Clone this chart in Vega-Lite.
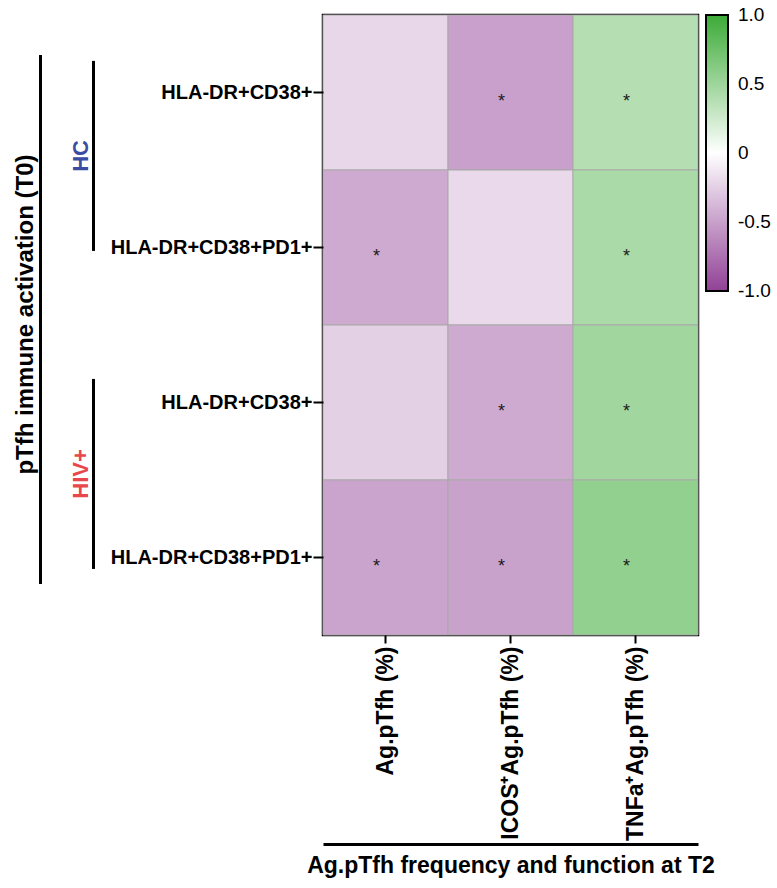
{
  "$schema": "https://vega.github.io/schema/vega-lite/v6.json",
  "padding": {"left": 12, "top": 13, "right": 0, "bottom": 0},
  "config": {"font": "Liberation Sans", "view": {"stroke": null}},
  "spacing": 14,
  "hconcat": [
    {
      "spacing": 27,
      "hconcat": [
        {
          "width": 3,
          "height": 620,
          "data": {"values": [{"span": "pTfh immune activation (T0)"}]},
          "mark": {"type": "rect", "color": "black"},
          "encoding": {
            "y": {
              "field": "span",
              "type": "nominal",
              "scale": {"paddingInner": 0, "paddingOuter": 0.086, "align": 0.44},
              "axis": {"title": null, "labelAngle": -90, "labelFontSize": 24, "labelFontWeight": "bold", "labelColor": "black", "labelPadding": 2, "labelOffset": -5, "ticks": false, "domain": false, "labelLimit": 0}
            }
          }
        },
        {
          "width": 3,
          "height": 620,
          "data": {"values": [{"group": "HC"}, {"group": "HIV+"}]},
          "mark": {"type": "rect", "color": "black"},
          "encoding": {
            "y": {
              "field": "group",
              "type": "nominal",
              "sort": ["HC", "HIV+"],
              "scale": {"paddingInner": 0.4025, "paddingOuter": 0.176, "align": 0.41},
              "axis": {"title": null, "labelAngle": -90, "labelFontSize": 22, "labelFontWeight": "bold", "labelColor": {"expr": "datum.value == 'HC' ? '#3a4da2' : '#e8474c'"}, "labelPadding": 0, "ticks": false, "domain": false, "labelLimit": 0}
            }
          }
        }
      ]
    },
    {
      "width": 375,
      "height": 620,
      "view": {"stroke": "black", "strokeWidth": 2.5},
      "data": {
        "values": [
          {"activation": "HC|HLA-DR+CD38+", "measure": "Ag.pTfh (%)", "r": -0.21, "sig": ""},
          {"activation": "HC|HLA-DR+CD38+", "measure": "ICOS⁺Ag.pTfh (%)", "r": -0.5, "sig": "*"},
          {"activation": "HC|HLA-DR+CD38+", "measure": "TNFa⁺Ag.pTfh (%)", "r": 0.38, "sig": "*"},
          {"activation": "HC|HLA-DR+CD38+PD1+", "measure": "Ag.pTfh (%)", "r": -0.45, "sig": "*"},
          {"activation": "HC|HLA-DR+CD38+PD1+", "measure": "ICOS⁺Ag.pTfh (%)", "r": -0.2, "sig": ""},
          {"activation": "HC|HLA-DR+CD38+PD1+", "measure": "TNFa⁺Ag.pTfh (%)", "r": 0.44, "sig": "*"},
          {"activation": "HIV+|HLA-DR+CD38+", "measure": "Ag.pTfh (%)", "r": -0.25, "sig": ""},
          {"activation": "HIV+|HLA-DR+CD38+", "measure": "ICOS⁺Ag.pTfh (%)", "r": -0.45, "sig": "*"},
          {"activation": "HIV+|HLA-DR+CD38+", "measure": "TNFa⁺Ag.pTfh (%)", "r": 0.48, "sig": "*"},
          {"activation": "HIV+|HLA-DR+CD38+PD1+", "measure": "Ag.pTfh (%)", "r": -0.48, "sig": "*"},
          {"activation": "HIV+|HLA-DR+CD38+PD1+", "measure": "ICOS⁺Ag.pTfh (%)", "r": -0.49, "sig": "*"},
          {"activation": "HIV+|HLA-DR+CD38+PD1+", "measure": "TNFa⁺Ag.pTfh (%)", "r": 0.56, "sig": "*"}
        ]
      },
      "layer": [
        {
          "mark": {"type": "rect", "stroke": "#a9a9a9", "strokeWidth": 1},
          "encoding": {
            "x": {
              "field": "measure",
              "type": "nominal",
              "sort": ["Ag.pTfh (%)", "ICOS⁺Ag.pTfh (%)", "TNFa⁺Ag.pTfh (%)"],
              "scale": {"paddingInner": 0, "paddingOuter": 0},
              "axis": {"orient": "bottom", "title": null, "labelAngle": -90, "labelFontSize": 23, "labelFontWeight": "bold", "labelColor": "black", "labelPadding": 3, "tickSize": 8, "tickWidth": 2, "tickColor": "black", "domain": false, "labelLimit": 0}
            },
            "y": {
              "field": "activation",
              "type": "nominal",
              "sort": ["HC|HLA-DR+CD38+", "HC|HLA-DR+CD38+PD1+", "HIV+|HLA-DR+CD38+", "HIV+|HLA-DR+CD38+PD1+"],
              "scale": {"paddingInner": 0, "paddingOuter": 0},
              "axis": {"title": null, "labelExpr": "split(datum.label, '|')[1]", "labelFontSize": 20, "labelFontWeight": "bold", "labelColor": "black", "labelPadding": 1, "tickSize": 10, "tickWidth": 2, "tickColor": "black", "domain": false, "labelLimit": 0}
            },
            "color": {
              "field": "r",
              "type": "quantitative",
              "scale": {"domain": [-1, 0, 1], "range": ["#914196", "#ffffff", "#3cab37"], "interpolate": "rgb"},
              "legend": {
                "title": null,
                "direction": "vertical",
                "offset": -10,
                "gradientLength": 276,
                "gradientThickness": 22,
                "gradientStrokeColor": "black",
                "gradientStrokeWidth": 2,
                "values": [-1, -0.5, 0, 0.5, 1],
                "labelExpr": "datum.value == 0 ? '0' : replace(format(datum.value, '.1f'), '−', '-')",
                "labelFontSize": 19,
                "labelColor": "black",
                "labelOffset": 10,
                "labelOverlap": false,
                "encode": {"labels": {"update": {"baseline": {"value": "middle"}}}}
              }
            }
          }
        },
        {
          "mark": {"type": "text", "fontSize": 18, "baseline": "middle", "dy": 9, "dx": -9, "color": "#1a1a1a"},
          "encoding": {
            "x": {
              "field": "measure",
              "type": "nominal",
              "sort": ["Ag.pTfh (%)", "ICOS⁺Ag.pTfh (%)", "TNFa⁺Ag.pTfh (%)"],
              "scale": {"paddingInner": 0, "paddingOuter": 0},
              "axis": {"orient": "bottom", "offset": 209, "labels": false, "ticks": false, "domain": true, "domainColor": "black", "domainWidth": 3, "title": "Ag.pTfh frequency and function at T2", "titleFontSize": 23, "titleFontWeight": "bold", "titleColor": "black", "titlePadding": 10}
            },
            "y": {
              "field": "activation",
              "type": "nominal",
              "sort": ["HC|HLA-DR+CD38+", "HC|HLA-DR+CD38+PD1+", "HIV+|HLA-DR+CD38+", "HIV+|HLA-DR+CD38+PD1+"]
            },
            "text": {"field": "sig"}
          }
        }
      ],
      "resolve": {"scale": {"x": "independent"}, "axis": {"x": "independent"}}
    }
  ]
}
